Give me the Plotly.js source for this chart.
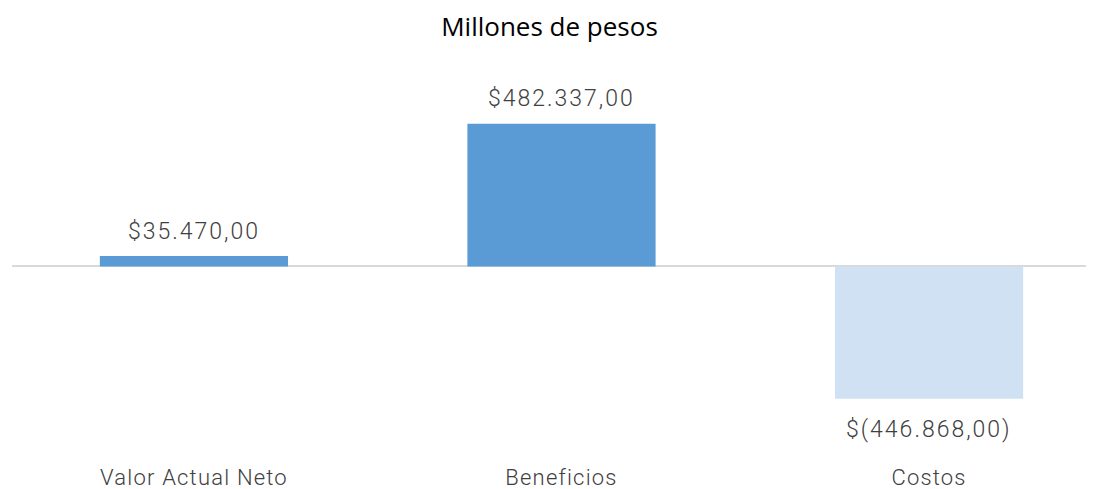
<!DOCTYPE html>
<html>
<head>
<meta charset="utf-8">
<script src="https://cdn.plot.ly/plotly-3.0.1.min.js"></script>
<style>
html,body{margin:0;padding:0;background:#fff;}
#chart{width:1099px;height:489px;}
#chart .annotation-text{letter-spacing:2px;}
#chart .xtick text{letter-spacing:1.2px;}
</style>
</head>
<body>
<div id="chart"></div>
<script>
const categories = ["Valor Actual Neto", "Beneficios", "Costos"];
const values = [35470, 482337, -446868];
const valueLabels = ["$35.470,00", "$482.337,00", "$(446.868,00)"];
const barColors = ["#5B9BD5", "#5B9BD5", "#CFE1F2"];

const annFont = {family: "Roboto, Lato, sans-serif", size: 23, weight: 300, color: "#404040"};
const tickFont = {family: "Roboto, Lato, sans-serif", size: 22, weight: 300, color: "#404040"};

const trace = {
  type: "bar",
  x: categories,
  y: values,
  width: 0.512,
  marker: {color: barColors},
  hoverinfo: "skip"
};

const annotations = categories.map((c, i) => ({
  x: c, y: values[i], xref: "x", yref: "y",
  text: valueLabels[i], showarrow: false,
  yanchor: "middle",
  yshift: values[i] >= 0 ? 25 : -31,
  font: annFont
}));

const layout = {
  width: 1099, height: 489,
  margin: {l: 12, r: 13, t: 60, b: 27},
  paper_bgcolor: "#fff", plot_bgcolor: "#fff",
  title: {text: "Millones de pesos", x: 0.5, xanchor: "center", y: 0.945, yanchor: "middle",
          font: {family: "'Open Sans', 'DejaVu Sans', sans-serif", size: 26, color: "#000"}},
  showlegend: false,
  xaxis: {type: "category", range: [-0.495, 2.427], showgrid: false, showline: false, zeroline: false,
          ticks: "", tickfont: tickFont},
  yaxis: {range: [-(463-267)*3373, (267-60)*3373], showgrid: false, showticklabels: false, ticks: "",
          zeroline: true, zerolinecolor: "#D9D9D9", zerolinewidth: 2, showline: false},
  annotations: annotations
};

Plotly.newPlot("chart", [trace], layout, {displayModeBar: false, staticPlot: true});
</script>
</body>
</html>
